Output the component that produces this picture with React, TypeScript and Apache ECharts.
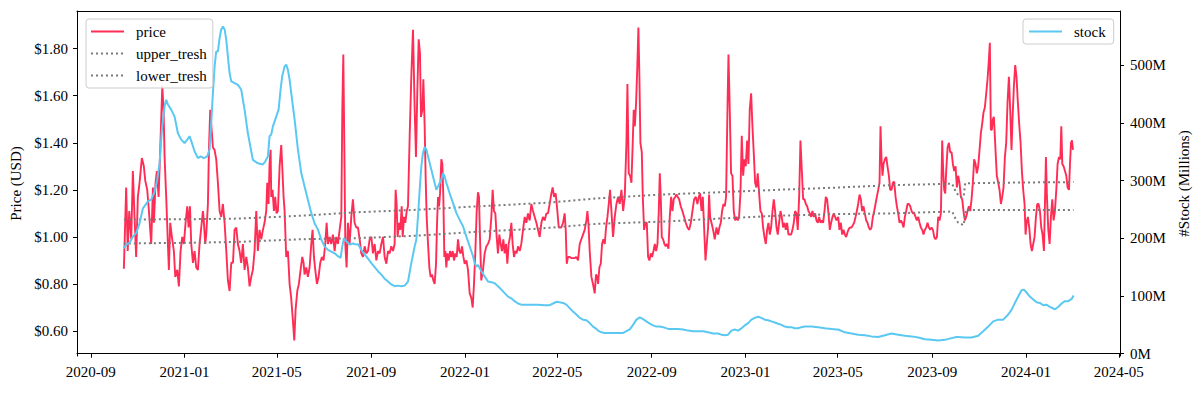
import React, { useEffect, useRef } from 'react';
import * as echarts from 'echarts';

// Day offsets are counted from the first observation date.
const START_DATE = [2020, 9, 14]; // 2020-10-14 (month is 0-based)
const DAY_MS = 86400000;

const xTickLabels = ['2020-09', '2021-01', '2021-05', '2021-09', '2022-01', '2022-05', '2022-09', '2023-01', '2023-05', '2023-09', '2024-01', '2024-05'];
const priceTicks = [0.6, 0.8, 1.0, 1.2, 1.4, 1.6, 1.8];
const stockTicks = [0, 100, 200, 300, 400, 500];

// [day offset, price USD]
const price: [number, number][] = [
  [0,0.865],[3,1.21],[5,0.94],[7,1.11],[9.6,0.99],[11.7,1.28],[13.9,1.085],[16,0.915],[18.2,1.17],[20.4,1.23],[23.4,1.335],[26,1.30],[27.8,1.24],[30.4,1.20],[32.6,1.11],[34.3,1.03],[35.6,0.97],[37.8,1.21],[39.1,1.06],[41.2,1.23],[43,1.28],[45.2,1.17],[47.3,1.37],[50,1.64],[51.7,1.54],[53,1.34],[55.1,1.17],[57.3,0.97],[58.6,0.86],[60.3,1.06],[62.5,1.00],[65.1,0.94],[66.9,0.83],[69.5,0.86],[71.6,0.79],[73.8,0.94],[76,1.00],[78.1,0.97],[80.3,1.06],[82.5,1.13],[84.2,1.04],[86,1.13],[87.7,0.97],[89.9,0.89],[92,0.94],[94.2,0.87],[96.4,0.86],[98.5,0.97],[100.7,1.04],[102.9,1.11],[104.2,1.06],[105.9,0.97],[107.2,1.01],[109.4,1.14],[110.7,1.37],[112.4,1.54],[113.7,1.48],[115.9,1.38],[118,1.37],[120.2,1.33],[122.4,1.23],[124.6,1.11],[126.7,1.085],[128.9,1.14],[131.1,1.06],[133.3,0.94],[135.4,0.815],[137.6,0.77],[139.8,0.89],[142,0.89],[144.1,1.03],[146.3,1.04],
  [148.4,0.97],[150.6,0.94],[152.7,0.89],[154.9,0.97],[157.1,0.86],[159.3,0.915],[161.4,0.87],[163.6,0.79],[165.8,0.83],[167.9,0.86],[170.1,0.94],[172.3,1.11],[174.4,0.94],[176.6,1.03],[178.8,0.99],[181,1.03],[183.1,1.06],[185.3,1.11],[186.6,1.23],[188.3,1.14],[189.6,1.31],[191,1.37],[191.8,1.17],[193.5,1.20],[195.3,1.11],[197,1.17],[198.7,1.10],[200.5,1.11],[202.7,1.30],[204.8,1.39],[206.1,1.30],[207.9,1.17],[209.2,1.11],[211.3,0.915],[213.5,0.94],[215.7,0.80],[217.8,0.74],[220,0.645],[221.8,0.56],[223.5,0.69],[225.7,0.77],[227.8,0.80],[230,0.86],[232.2,0.915],[233.9,0.89],[235.2,0.84],[237.4,0.87],[239.5,0.83],[241.7,0.87],[243.9,0.97],[245.6,1.03],[247.4,0.915],[249.1,0.86],[251.3,0.80],[253.4,0.83],[255.6,0.89],[257.8,0.915],[259.9,0.90],[262.1,0.97],[263.9,1.06],[265.6,0.97],[267.8,1.00],[269.9,0.97],[272.1,1.01],[274.3,0.94],[276.4,1.00],[278.6,0.97],[280.8,1.03],[283,1.085],[284.3,1.54],[285.6,1.775],[286.9,1.40],[288.2,0.97],[289.9,0.87],[291.6,1.06],[293.8,0.97],[296,1.085],[298.1,1.16],[300.3,1.06],[302.5,1.04],
  [304.7,1.04],[306.9,0.99],[309,0.93],[311.2,0.915],[313.4,0.96],[315.5,0.93],[317.7,0.94],[319.9,0.99],[322.1,1.00],[324.2,0.93],[326.4,0.97],[328.6,0.90],[330.7,0.94],[332.9,0.93],[335.1,0.97],[337.3,1.00],[339.4,0.915],[341.6,0.886],[343.8,0.94],[345.9,0.93],[348.1,0.96],[350.3,0.94],[352.4,0.97],[353.7,1.20],[355,1.14],[356.3,1.00],[358.1,1.06],[359.8,1.03],[361.6,1.13],[362.9,1.00],[364.6,1.085],[366.3,1.06],[368.1,1.11],[369.8,1.13],[372,1.43],[374.1,1.68],[376.3,1.88],[378.5,1.54],[380.2,1.34],[381.9,1.61],[383.7,1.84],[385.4,1.78],[386.7,1.51],[388.5,1.54],[389.8,1.67],[391.5,1.47],[392.8,1.25],[394.1,1.085],[395.9,0.97],[397.6,0.87],[399.3,0.83],[401,0.84],[402.8,0.815],[404.5,0.80],[406.3,0.886],[407.6,1.06],[408.9,1.17],[410.2,1.13],[411.5,1.185],[413.2,1.33],[414.5,1.31],[415.8,1.17],[417.1,0.915],[418.4,0.94],[419.7,0.87],[421,0.93],[422.8,0.90],[424.5,0.94],[426.2,0.915],[428,0.94],[429.7,0.90],[431.4,0.93],[433.2,0.915],[434.9,0.99],[436.6,0.94],[438.4,0.93],[440.1,0.96],[441.9,0.915],[443.6,0.886],[445.8,0.90],[447.9,0.86],[450.1,0.76],[452.3,0.74],[454,0.70],[455.7,0.80],[457.5,0.94],[459.2,1.11],
  [460.9,1.19],[462.2,1.17],[463.5,1.00],[465.2,0.815],[467.4,0.86],[469.6,0.93],[471.8,0.96],[473.9,0.97],[476.1,0.99],[478.3,1.085],[480,1.20],[481.7,1.11],[483.5,1.10],[485.2,1.00],[486.9,0.93],[488.7,1.01],[490.4,0.97],[492.1,0.94],[493.9,0.99],[495.6,0.93],[497.4,0.97],[499.1,0.886],[500.8,0.97],[502.6,1.00],[504.3,1.06],[506,0.97],[507.8,0.915],[509.5,0.94],[511.2,0.93],[513,0.96],[515.2,0.94],[517.3,0.97],[519.5,1.03],[521.7,1.085],[523.8,1.06],[526,1.10],[528.2,1.07],[530.3,1.14],[532.5,1.11],[534.7,1.085],[536.9,1.06],[539,1.03],[541.2,1.00],[543.4,1.06],[545.5,1.085],[547.7,1.07],[549.9,1.10],[552,1.10],[554.2,1.14],[556.4,1.185],[558.1,1.21],[559.9,1.17],[562,1.185],[564.2,1.11],[566,1.04],[567.7,1.04],[569.4,1.04],[571.6,1.06],[573.7,1.10],[575.1,1.03],[576.4,0.886],[578.1,0.915],[580.3,0.915],[582.4,0.91],[584.6,0.91],[586.8,0.91],[588.9,0.915],[591.1,0.90],[593.3,0.97],[595.4,0.99],[597.6,1.01],[599.8,1.03],[602,1.07],[603.3,1.11],[604.6,1.06],[606.3,0.94],[608.5,0.83],[610.6,0.80],[612.8,0.76],[614.5,0.84],[616.3,0.83],
  [617.2,0.80],[618.9,0.87],[620.7,0.886],[622.4,0.97],[624.1,0.99],[625.9,0.97],[627.6,1.04],[629.4,1.085],[631.1,1.14],[632.8,1.20],[634.6,1.11],[636.7,1.00],[638.9,1.085],[641.1,1.14],[643.2,1.17],[645.4,1.14],[647.6,1.20],[649.8,1.11],[651.9,1.17],[654.1,1.40],[655.4,1.65],[657.1,1.27],[658.9,1.26],[660.6,1.23],[662.3,1.40],[663.6,1.54],[665,1.47],[666.7,1.57],[668.4,1.74],[669.7,1.89],[671,1.68],[672.3,1.40],[674.1,1.36],[675.4,1.17],[677.1,1.03],[678.8,1.06],[680.6,1.06],[682.3,0.915],[684,0.90],[685.8,0.93],[687.5,0.915],[689.3,0.94],[691,0.97],[692.7,0.94],[694.5,0.97],[696.2,1.11],[697.5,1.27],[698.8,1.17],[700.1,1.00],[701.8,0.99],[703.6,0.97],[705.3,0.96],[707,0.97],[708.8,0.95],[710.5,1.085],[712.3,1.17],[714,1.11],[715.7,1.16],[717.5,1.17],[719.2,1.18],[720.9,1.17],[722.7,1.16],[724.8,1.13],[727,1.11],[729.2,1.085],[731.3,1.06],[733.5,1.04],[735.7,1.03],[737.9,1.06],[740,1.11],[742.2,1.16],[744.4,1.17],[746.5,1.14],[748.3,1.17],[750,1.185],[751.8,1.11],[753.5,1.17],[755.2,1.04],[757,0.90],[758.7,0.97],[760.4,1.04],[761.7,1.18],[763,1.085],[764.8,1.06],[766.9,1.03],[769.1,0.99],[771.3,1.04],
  [773.4,1.01],[775.1,1.04],[776.9,1.06],[778.6,1.11],[780.4,1.14],[782.1,1.13],[783.8,1.17],[785.6,1.54],[786.9,1.775],[788.6,1.54],[790.3,1.27],[792.1,1.26],[793.8,1.11],[795.5,1.07],[797.3,1.085],[799,1.07],[800.7,1.085],[802.5,1.185],[804.2,1.43],[806,1.26],[807.7,1.33],[809.4,1.30],[811.2,1.41],[812.9,1.31],[814.6,1.54],[816.4,1.61],[818.1,1.47],[819.8,1.36],[821.6,1.23],[823.3,1.21],[825,1.27],[826.8,1.185],[828.5,1.11],[830.3,1.10],[832,1.04],[833.7,1.00],[835.5,0.97],[837.2,1.03],[838.9,1.06],[840.7,1.01],[842.4,1.04],[844.2,1.11],[845.9,1.16],[847.6,1.11],[849.4,1.04],[851.1,1.01],[852.8,1.06],[854.6,1.11],[856.3,1.085],[858,1.04],[859.8,1.06],[861.5,1.03],[863.2,1.06],[865,1.01],[866.7,1.01],[868.5,1.01],[870.2,1.03],[871.9,1.06],[873.7,1.11],[875.4,1.10],[877.1,1.03],[878.9,1.17],[880.6,1.41],[882.4,1.28],[884.1,1.16],[885.8,1.16],[887.6,1.14],[889.3,1.13],[891,1.11],[892.8,1.10],[894.5,1.085],[896.2,1.11],[898,1.085],[899.7,1.10],[901.4,1.07],[903.2,1.06],[904.9,1.085],[906.7,1.06],[908.4,1.07],[910.1,1.06],[911.9,1.11],[913.6,1.17],[915.3,1.16],[917.1,1.10],[918.8,1.03],[920.5,1.06],[922.3,1.085],[924,1.10],[925.7,1.085],[927.5,1.07],
  [929.7,1.085],[931.4,1.03],[933.2,1.06],[934.9,1.01],[936.6,1.03],[938.4,1.01],[940.1,1.00],[941.9,1.02],[943.6,1.035],[945.3,1.04],[947.1,1.04],[948.8,1.05],[950.5,1.06],[952.3,1.085],[954,1.11],[955.7,1.14],[957.5,1.18],[959.2,1.16],[960.9,1.11],[962.7,1.13],[964.4,1.10],[966.2,1.07],[967.9,1.06],[969.6,1.04],[971.4,1.03],[973.1,1.04],[974.8,1.085],[976.6,1.11],[978.3,1.14],[980,1.17],[981.8,1.20],[983.5,1.23],[984.8,1.47],[986.1,1.33],[987.4,1.26],[988.7,1.31],[990.5,1.33],[992.2,1.34],[993.9,1.30],[995.7,1.26],[997.4,1.20],[999.1,1.20],[1000.9,1.23],[1002.6,1.235],[1004.4,1.17],[1006.1,1.13],[1007.8,1.10],[1009.6,1.06],[1011.3,1.07],[1013,1.06],[1014.8,1.04],[1016.5,1.085],[1018.2,1.11],[1020,1.14],[1021.7,1.14],[1023.5,1.13],[1025.2,1.11],[1026.9,1.10],[1028.7,1.10],[1030.4,1.085],[1032.1,1.07],[1033.9,1.085],[1035.6,1.06],[1037.3,1.04],[1039.1,1.03],[1040.8,1.01],[1042.5,1.03],[1044.3,1.04],[1046,1.06],[1047.8,1.04],[1049.5,1.03],[1051.2,1.04],[1053,1.03],[1054.7,1.00],[1056.4,0.99],[1058.2,1.00],[1059.9,1.085],[1061.6,1.07],[1063.4,1.10],[1065.1,1.41],[1066.4,1.28],[1067.7,1.20],[1069,1.185],[1070.3,1.28],[1072.1,1.38],[1073.8,1.40],[1075.5,1.36],[1077.3,1.36],[1079,1.31],[1080.7,1.28],[1082.5,1.30],[1084.2,1.21],
  [1085.9,1.26],[1087.6,1.23],[1089.4,1.17],[1091.1,1.16],[1092.8,1.11],[1094.6,1.07],[1096.3,1.085],[1098.1,1.11],[1099.8,1.13],[1101.5,1.11],[1103.3,1.16],[1105,1.23],[1106.7,1.33],[1108.5,1.31],[1110.2,1.27],[1111.9,1.30],[1113.7,1.37],[1115.4,1.44],[1117.1,1.48],[1118.9,1.53],[1120.6,1.55],[1122.4,1.61],[1124.1,1.67],[1125.8,1.75],[1127.1,1.825],[1128.4,1.455],[1129.7,1.455],[1131,1.50],[1132.3,1.51],[1133.6,1.43],[1134.9,1.34],[1136.2,1.26],[1138,1.23],[1139.7,1.20],[1141.5,1.14],[1143.2,1.17],[1144.9,1.21],[1146.7,1.34],[1148.4,1.40],[1150.1,1.57],[1151.9,1.68],[1153.6,1.54],[1155.3,1.37],[1156.6,1.50],[1158.4,1.64],[1160.1,1.73],[1161.8,1.68],[1163.6,1.57],[1165.3,1.48],[1167.1,1.40],[1168.8,1.28],[1170.5,1.20],[1172.3,1.14],[1173.6,1.01],[1174.9,1.06],[1176.6,1.085],[1178.4,1.04],[1180.1,0.97],[1181.8,0.94],[1183.6,0.97],[1185.3,1.00],[1187.1,1.085],[1188.8,1.14],[1190.5,1.14],[1192.3,1.11],[1194,1.04],[1195.7,1.01],[1197.5,0.94],[1198.8,1.14],[1200.1,1.34],[1201.4,1.17],[1203.2,1.03],[1204.9,0.97],[1206.6,1.085],[1208.4,1.16],[1210.1,1.07],[1211.8,1.11],[1213.6,1.20],[1215.3,1.31],[1217.1,1.34],[1218.8,1.33],[1220.1,1.47],[1221.4,1.31],[1223.1,1.30],[1224.9,1.28],[1226.6,1.26],[1228.3,1.21],[1230.1,1.20],[1231.4,1.31],[1232.7,1.40],[1234,1.41],[1235.3,1.37],
];

// [day offset, threshold USD]
const upperTresh: [number, number][] = [
  [0,1.074],[80,1.075],[150,1.078],[230,1.09],[305,1.105],[380,1.115],[460,1.13],[550,1.145],[617,1.164],[700,1.18],[775,1.19],[850,1.20],[930,1.21],[1000,1.22],[1078,1.226],[1083,1.19],[1088,1.17],[1093,1.17],[1095,1.228],[1160,1.231],[1236,1.233],
];
const lowerTresh: [number, number][] = [
  [0,0.972],[80,0.975],[150,0.979],[230,0.99],[305,0.995],[380,1.005],[460,1.022],[540,1.035],[617,1.056],[700,1.065],[775,1.078],[850,1.09],[930,1.097],[1000,1.10],[1078,1.108],[1082,1.08],[1086,1.06],[1093,1.05],[1096,1.114],[1160,1.114],[1236,1.114],
];

// [day offset, stock in millions]
const stock: [number, number][] = [
  [0,183],[3,189],[7.4,192],[11.7,203],[16,209],[20.4,226],[24.8,252],[31.3,264],[35.6,267],[40,281],[43.4,302],[46.5,330],[49.5,388],[53,429],[55.1,440],[57.3,432],[61.6,423],[66,411],[70.3,382],[74.7,371],[79,365],[82.5,371],[85.5,377],[88.6,365],[92,351],[96.4,339],[99.8,342],[104.2,339],[108.5,342],[111.6,354],[113.7,400],[115.9,452],[118.1,498],[120.2,524],[122.4,524],[124.6,547],[126.7,562],[128.9,567],[131.1,562],[133.3,544],[135.4,515],[137.6,486],[139.8,472],[144.1,469],
  [148.4,466],[152.7,458],[157.1,423],[161.4,382],[167.9,336],[174.4,330],[181,328],[184,333],[187.5,342],[189.6,377],[191.8,380],[194,394],[198.3,411],[201.4,423],[204,458],[206.1,481],[209.2,498],[211.3,501],[213.5,492],[215.7,475],[217.8,452],[222.2,406],[226.5,354],[230.9,313],[235.2,290],[239.5,267],[243.9,244],[248.2,226],[252.6,215],[256.9,198],[261.2,186],[265.6,180],[269.9,177],[274.3,174],[278.6,169],[282.1,166],[284.3,186],[286.4,200],[289.5,195],[293.8,189],[298.1,191],[302.5,189],
  [304.7,190],[309,180],[313.4,172],[317.7,165],[322.1,157],[326.4,150],[330.7,143],[335.1,137],[339.4,130],[343.8,125],[348.1,120],[352.4,117],[356.8,118],[361.1,117],[365.5,118],[369.8,125],[374.1,157],[378.5,186],[380.7,198],[382.8,238],[385,284],[387.2,325],[389.3,348],[391.5,358],[393.7,354],[395.9,342],[400.2,319],[404.5,296],[406.7,284],[408.9,290],[411,296],[413.2,302],[415.4,313],[417.5,307],[419.7,296],[424,278],[428.4,261],[432.7,244],[437.1,232],[441.4,221],[445.8,203],[450.1,186],[454.4,169],[456.6,157],[458.8,151],
  [460.9,154],[465.2,143],[469.6,134],[473.9,125],[478.3,124],[482.6,122],[487,117],[491.3,111],[495.6,105],[500,99],[504.3,96],[508.6,91],[513,87],[517.3,85],[521.7,85],[530.3,85],[539,85],[547.7,84],[554.2,84],[558.6,87],[562.9,90],[567.2,89],[571.6,88],[575.9,85],[580.3,79],[584.6,73],[588.9,68],[593.3,62],[597.6,59],[602,58],[606.3,53],[610.6,47],[615,43],
  [617.2,40],[621.5,37],[625.9,36],[634.6,36],[643.2,36],[649.8,36],[654.1,39],[658.4,42],[662.8,50],[667.1,59],[671.5,63],[675.8,60],[680.1,56],[684.5,52],[688.8,49],[693.2,47],[697.5,47],[701.8,46],[708.3,43],[714.9,43],[721.4,43],[727.9,42],[734.4,40],[741,39],[747.4,39],[753.9,39],[760.4,37],[767,35],
  [773.4,35],[777.7,33],[782.1,32],[786.4,33],[790.8,40],[795.1,42],[799.4,40],[803.8,44],[808.1,49],[812.5,53],[816.8,59],[821.1,62],[825.5,64],[829.8,62],[834.2,59],[838.5,58],[842.9,56],[847.2,54],[851.5,52],[855.9,50],[860.2,47],[864.5,46],[868.9,46],[873.2,44],[877.6,44],[881.9,46],[886.2,47],[894.9,47],[903.6,46],[912.3,44],[921,43],[927.5,42],
  [929.7,42],[938.4,37],[947.1,35],[955.7,33],[964.4,32],[973.1,30],[981.8,29],[990.5,32],[999.1,35],[1007.8,33],[1016.5,31],[1025.2,30],[1033.9,28],[1042.5,25],[1051.2,24],[1059.9,23],[1068.6,24],[1077.3,27],[1083.8,29],
  [1085.9,29],[1094.6,28],[1103.3,28],[1111.9,31],[1118.5,39],[1125,47],[1131.5,56],[1138,59],[1144.5,59],[1151,68],[1155.3,76],[1159.7,88],[1164,99],[1168.4,110],[1171.4,111],[1174.9,106],[1179.2,99],[1183.6,94],[1187.9,89],[1192.2,88],[1196.6,84],[1200.9,85],[1205.3,81],[1211.8,77],[1216.1,81],[1220.5,87],[1224.8,91],[1229.1,91],[1233.5,95],[1236.1,101],
];

const FONT = "'Liberation Serif', 'DejaVu Serif', serif";
const RED = '#ff2d55';
const BLUE = '#5bc8f2';
const GRAY = '#7a7a7a';

const START = Date.UTC(START_DATE[0], START_DATE[1], START_DATE[2]);
const toTime = (d: number) => START + d * DAY_MS;
const toSeries = (arr: [number, number][]) => arr.map(([d, v]) => [toTime(d), v]);
const parseYM = (s: string) => {
  const [y, m] = s.split('-').map(Number);
  return Date.UTC(y, m - 1, 1);
};
const xTickValues = xTickLabels.map(parseYM);
const fmtYM = (v: number) => {
  const d = new Date(v);
  return d.getUTCFullYear() + '-' + String(d.getUTCMonth() + 1).padStart(2, '0');
};

export default function App() {
  const ref = useRef<HTMLDivElement>(null);
  useEffect(() => {
    if (!ref.current) return;
    const chart = echarts.init(ref.current, undefined, { renderer: 'svg' });
    const axisLine = { show: true, lineStyle: { color: '#000', width: 1 } };
    const tick = { show: true, inside: false, length: 4, lineStyle: { color: '#000', width: 1 } };
    const labelStyle = { color: '#000', fontFamily: FONT, fontSize: 15 };
    const xMin = Date.UTC(2020, 7, 14);
    const xMax = Date.UTC(2024, 4, 2, 12);
    const legendBox = {
      orient: 'vertical',
      top: 19,
      itemWidth: 33,
      itemHeight: 10,
      selectedMode: false,
      borderColor: '#cccccc',
      borderWidth: 1,
      borderRadius: 3,
      backgroundColor: 'rgba(255,255,255,0.8)',
      itemStyle: { opacity: 0 },
      textStyle: { ...labelStyle, padding: [0, 0, 0, 7] },
    };
    chart.setOption({
      animation: false,
      backgroundColor: '#fff',
      textStyle: { fontFamily: FONT },
      grid: { left: 77, right: 80, top: 11, bottom: 37, show: false },
      legend: [
        { ...legendBox, data: ['price', 'upper_tresh', 'lower_tresh'], left: 86, padding: [5, 6, 5, 4], itemGap: 7 },
        { ...legendBox, data: ['stock'], left: 1023, padding: [5, 8, 5, 5] },
      ],
      xAxis: [
        {
          type: 'value',
          min: xMin,
          max: xMax,
          position: 'bottom',
          axisLine,
          splitLine: { show: false },
          axisTick: { ...tick, customValues: xTickValues },
          axisLabel: { ...labelStyle, margin: 8, customValues: xTickValues, formatter: (v: number) => fmtYM(v) },
        },
        {
          type: 'value',
          min: xMin,
          max: xMax,
          position: 'top',
          axisLine,
          splitLine: { show: false },
          axisTick: { show: false },
          axisLabel: { show: false },
        },
      ],
      yAxis: [
        {
          type: 'value',
          min: 0.494,
          max: 1.96,
          position: 'left',
          axisLine,
          splitLine: { show: false },
          axisTick: { ...tick, customValues: priceTicks },
          axisLabel: { ...labelStyle, margin: 9, customValues: priceTicks, formatter: (v: number) => '$' + v.toFixed(2) },
          name: 'Price (USD)',
          nameLocation: 'middle',
          nameGap: 52,
          nameTextStyle: { ...labelStyle },
        },
        {
          type: 'value',
          min: -4,
          max: 594,
          position: 'right',
          axisLine,
          splitLine: { show: false },
          axisTick: { ...tick, customValues: stockTicks },
          axisLabel: { ...labelStyle, margin: 10, customValues: stockTicks, formatter: (v: number) => Math.round(v) + 'M' },
          name: '#Stock (Millions)',
          nameLocation: 'middle',
          nameGap: 54,
          nameRotate: 90,
          nameTextStyle: { ...labelStyle },
        },
      ],
      series: [
        {
          name: 'price',
          type: 'line',
          xAxisIndex: 0,
          yAxisIndex: 0,
          data: toSeries(price),
          symbol: 'none',
          lineStyle: { color: RED, width: 1.9 },
          itemStyle: { color: RED },
        },
        {
          name: 'upper_tresh',
          type: 'line',
          xAxisIndex: 0,
          yAxisIndex: 0,
          data: toSeries(upperTresh),
          symbol: 'none',
          lineStyle: { color: GRAY, width: 2, type: [2, 3] },
          itemStyle: { color: GRAY },
        },
        {
          name: 'lower_tresh',
          type: 'line',
          xAxisIndex: 0,
          yAxisIndex: 0,
          data: toSeries(lowerTresh),
          symbol: 'none',
          lineStyle: { color: GRAY, width: 2, type: [2, 3] },
          itemStyle: { color: GRAY },
        },
        {
          name: 'stock',
          type: 'line',
          xAxisIndex: 0,
          yAxisIndex: 1,
          data: toSeries(stock),
          symbol: 'none',
          lineStyle: { color: BLUE, width: 2 },
          itemStyle: { color: BLUE },
        },
      ],
    });
    return () => chart.dispose();
  }, []);
  return <div ref={ref} style={{ position: 'fixed', left: 0, top: 0, width: 1200, height: 393, background: '#fff' }} />;
}
